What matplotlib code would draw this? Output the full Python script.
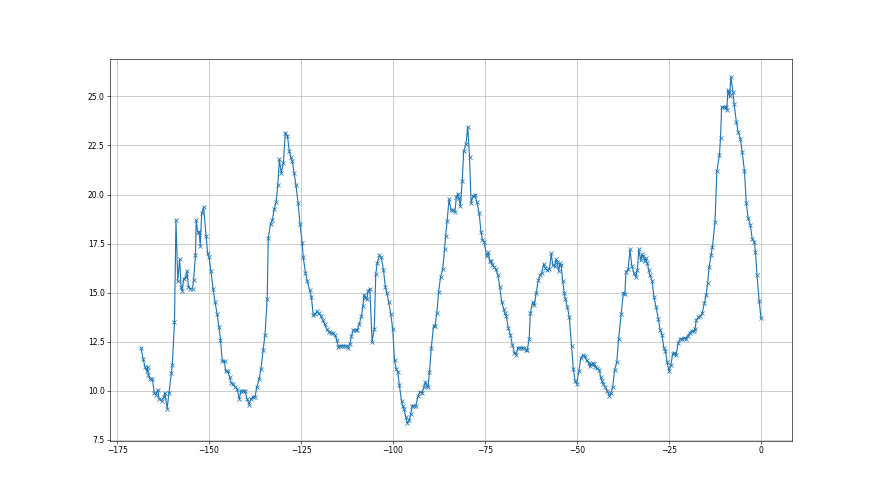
import matplotlib
matplotlib.use("Agg")
import matplotlib.pyplot as plt

x_values = [
    -168.5, -167.9, -167.4, -166.9, -166.7, -166.5, -166.0, -165.4, -164.9, -164.5,
    -163.9, -163.6, -162.9, -162.3, -162.0, -161.4, -160.9, -160.3, -160.0, -159.4,
    -159.0, -158.5, -158.0, -157.6, -157.3, -156.9, -156.3, -156.0, -155.6, -155.1,
    -154.5, -154.2, -153.7, -153.5, -153.1, -152.7, -152.4, -152.0, -151.5, -150.8,
    -150.4, -150.0, -149.5, -148.9, -148.4, -147.8, -147.3, -146.9, -146.4, -145.8,
    -145.5, -144.9, -144.4, -144.0, -143.5, -142.9, -142.4, -141.8, -141.3, -140.8,
    -140.2, -139.7, -139.1, -138.6, -138.0, -137.5, -137.0, -136.4, -135.9, -135.3,
    -134.8, -134.2, -133.9, -133.3, -132.8, -132.3, -131.8, -131.3, -130.9, -130.4,
    -129.8, -129.3, -128.7, -128.2, -127.8, -127.4, -126.9, -126.4, -125.8, -125.3,
    -124.7, -124.4, -123.8, -123.3, -122.7, -122.2, -121.7, -121.1, -120.7, -120.2,
    -119.6, -119.1, -118.6, -118.0, -117.5, -116.9, -116.4, -115.8, -115.3, -114.9,
    -114.4, -113.9, -113.3, -112.8, -112.2, -111.7, -111.3, -110.8, -110.2, -109.7,
    -109.2, -108.6, -108.2, -107.9, -107.5, -107.1, -106.8, -106.3, -105.7, -105.1,
    -104.7, -104.3, -103.7, -103.2, -102.6, -102.1, -101.7, -101.2, -100.6, -100.1,
    -99.6, -99.1, -98.7, -98.3, -97.7, -97.4, -97.0, -96.5, -96.1, -95.6,
    -95.2, -94.8, -94.3, -93.8, -93.2, -92.7, -92.1, -91.6, -91.2, -90.8,
    -90.5, -90.1, -89.6, -89.0, -88.6, -88.1, -87.6, -87.1, -86.5, -86.0,
    -85.7, -85.3, -84.8, -84.2, -83.7, -83.2, -82.8, -82.4, -82.1, -81.7,
    -81.2, -80.8, -80.2, -79.7, -79.2, -78.8, -78.3, -77.7, -77.2, -76.6,
    -76.1, -75.7, -75.2, -74.6, -74.1, -73.7, -73.4, -73.0, -72.5, -72.1,
    -71.5, -71.0, -70.5, -69.9, -69.6, -69.2, -68.7, -68.1, -67.6, -67.0,
    -66.5, -66.1, -65.6, -65.0, -64.5, -63.9, -63.5, -63.0, -62.7, -62.1,
    -61.6, -61.1, -60.5, -60.0, -59.6, -59.1, -58.6, -58.1, -57.5, -57.0,
    -56.6, -56.1, -55.7, -55.4, -55.0, -54.6, -54.3, -53.9, -53.5, -53.2,
    -52.6, -52.1, -51.5, -51.0, -50.5, -50.1, -49.5, -49.0, -48.5, -47.9,
    -47.4, -46.8, -46.5, -46.1, -45.7, -45.4, -45.0, -44.5, -43.9, -43.6,
    -43.2, -42.9, -42.3, -41.8, -41.2, -40.8, -40.3, -39.8, -39.2, -38.7,
    -38.0, -37.4, -37.0, -36.7, -36.1, -35.6, -35.1, -34.5, -34.0, -33.6,
    -33.2, -32.7, -32.3, -32.0, -31.6, -31.3, -30.9, -30.5, -30.2, -29.6,
    -29.1, -28.5, -27.9, -27.4, -26.9, -26.4, -26.0, -25.5, -25.0, -24.5,
    -24.0, -23.6, -23.1, -22.5, -21.9, -21.4, -20.8, -20.4, -19.9, -19.4,
    -18.8, -18.3, -17.9, -17.6, -17.0, -16.5, -16.0, -15.4, -14.9, -14.5,
    -14.1, -13.6, -13.2, -12.5, -12.0, -11.3, -11.0, -10.7, -10.1, -9.6,
    -9.3, -9.0, -8.8, -8.5, -8.2, -7.6, -7.3, -6.7, -6.2, -5.6,
    -5.1, -4.5, -4.0, -3.5, -2.9, -2.4, -1.8, -1.5, -1.1, -0.5,
    0.0,
]

y_values = [
    12.2, 11.6, 11.2, 11.0, 11.2, 10.8, 10.6, 10.6, 9.9, 9.8,
    10.05, 9.6, 9.5, 9.7, 9.9, 9.1, 9.9, 10.9, 11.3, 13.5,
    18.7, 15.6, 16.7, 15.3, 15.1, 15.7, 15.8, 16.1, 15.3, 15.2,
    15.2, 15.65, 16.9, 18.7, 18.1, 18.1, 17.4, 19.05, 19.35, 17.9,
    17.0, 16.8, 16.1, 15.2, 14.55, 13.9, 13.25, 12.6, 11.5, 11.5,
    11.0, 11.0, 10.7, 10.4, 10.35, 10.2, 10.1, 9.6, 10.0, 10.0,
    10.0, 9.6, 9.3, 9.6, 9.7, 9.7, 10.2, 10.6, 11.1, 12.1,
    12.85, 14.7, 17.8, 18.5, 18.7, 19.25, 19.6, 20.5, 21.8, 21.1,
    21.6, 23.15, 23.0, 22.2, 21.9, 21.7, 21.1, 20.5, 19.55, 18.5,
    17.55, 16.8, 16.0, 15.6, 15.15, 14.8, 13.85, 13.9, 14.05, 13.95,
    13.8, 13.6, 13.4, 13.15, 13.0, 12.95, 12.95, 12.85, 12.6, 12.25,
    12.3, 12.3, 12.3, 12.3, 12.2, 12.4, 12.8, 13.1, 13.1, 13.1,
    13.4, 13.8, 14.3, 14.9, 14.75, 14.7, 15.1, 15.2, 12.5, 13.15,
    15.95, 16.5, 16.9, 16.8, 16.15, 15.3, 15.0, 14.55, 13.9, 13.15,
    11.55, 11.1, 10.95, 10.3, 9.5, 9.25, 9.05, 8.65, 8.35, 8.5,
    8.8, 9.25, 9.25, 9.25, 9.75, 9.95, 9.9, 10.2, 10.45, 10.25,
    10.2, 10.95, 12.2, 13.3, 13.3, 13.95, 15.05, 15.8, 16.2, 17.2,
    17.9, 18.65, 19.75, 19.2, 19.2, 19.1, 19.85, 20.05, 19.8, 19.4,
    20.7, 22.2, 22.55, 23.45, 21.9, 19.55, 19.9, 20.0, 19.6, 19.05,
    18.1, 17.7, 17.6, 16.85, 17.05, 16.6, 16.6, 16.4, 16.3, 16.2,
    15.9, 15.3, 14.55, 14.15, 13.95, 13.8, 13.2, 12.85, 12.35, 11.95,
    11.85, 12.2, 12.2, 12.2, 12.2, 12.1, 12.1, 12.65, 13.95, 14.5,
    14.35, 15.0, 15.65, 15.9, 16.0, 16.45, 16.25, 16.15, 16.2, 17.0,
    16.4, 16.35, 16.7, 16.55, 16.1, 16.5, 16.4, 15.6, 15.0, 14.7,
    14.25, 13.75, 12.3, 11.1, 10.5, 10.35, 11.0, 11.65, 11.8, 11.75,
    11.55, 11.4, 11.25, 11.35, 11.4, 11.35, 11.2, 11.15, 11.05, 10.7,
    10.5, 10.35, 10.2, 10.0, 9.75, 9.9, 10.2, 11.05, 11.45, 12.65,
    13.9, 15.0, 14.95, 16.05, 16.2, 17.2, 16.35, 16.0, 15.8, 16.15,
    17.2, 16.65, 16.95, 16.85, 16.6, 16.75, 16.5, 16.15, 15.9, 15.6,
    14.8, 14.25, 13.65, 13.1, 12.85, 12.2, 12.05, 11.45, 11.0, 11.3,
    11.9, 11.95, 11.8, 12.45, 12.65, 12.65, 12.7, 12.65, 12.8, 12.95,
    13.05, 13.05, 13.15, 13.6, 13.75, 13.8, 13.95, 14.45, 14.9, 15.5,
    16.3, 16.9, 17.35, 18.6, 21.2, 22.0, 22.9, 24.45, 24.45, 24.45,
    24.3, 25.3, 25.2, 25.0, 26.0, 25.2, 24.6, 23.7, 23.2, 22.85,
    22.15, 21.2, 19.55, 18.8, 18.45, 17.75, 17.6, 17.05, 15.9, 14.6,
    13.7,
]

fig, ax = plt.subplots(figsize=(16, 9), dpi=55)
ax.plot(x_values, y_values, color="#1f77b4", marker="x", linewidth=1.5, markersize=6)
ax.grid(True)
fig.savefig("out.png", dpi=55)
